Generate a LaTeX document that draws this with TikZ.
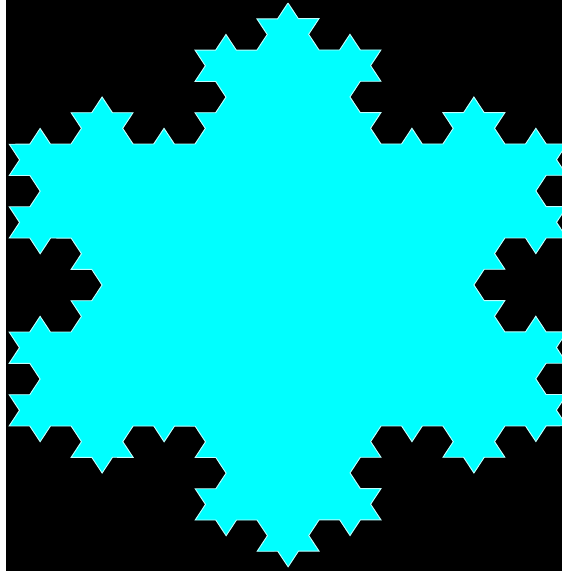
\documentclass[tikz,border=0pt]{standalone}
\usetikzlibrary{decorations.fractals}
\definecolor{cy}{RGB}{0,255,255}
\definecolor{cyedge}{RGB}{190,255,255}
\begin{document}
\begin{tikzpicture}[x=1pt,y=1pt]
\useasboundingbox (0,0) rectangle (562,571);
\fill[white] (0,0) rectangle (6,571);
\fill[black] (6,0) rectangle (562,571);
\begin{scope}
\clip (6,0) rectangle (562,571);
\begin{scope}[transform canvas={shift={(288,286)},xscale=3.22,yscale=2.82}]
\filldraw[fill=cy, draw=cyedge, line width=0.3pt, decoration=Koch snowflake]
 decorate{decorate{decorate{(0,100) -- (86.6025,-50) -- (-86.6025,-50) -- (0,100)}}};
\end{scope}
\end{scope}
\end{tikzpicture}
\end{document}
